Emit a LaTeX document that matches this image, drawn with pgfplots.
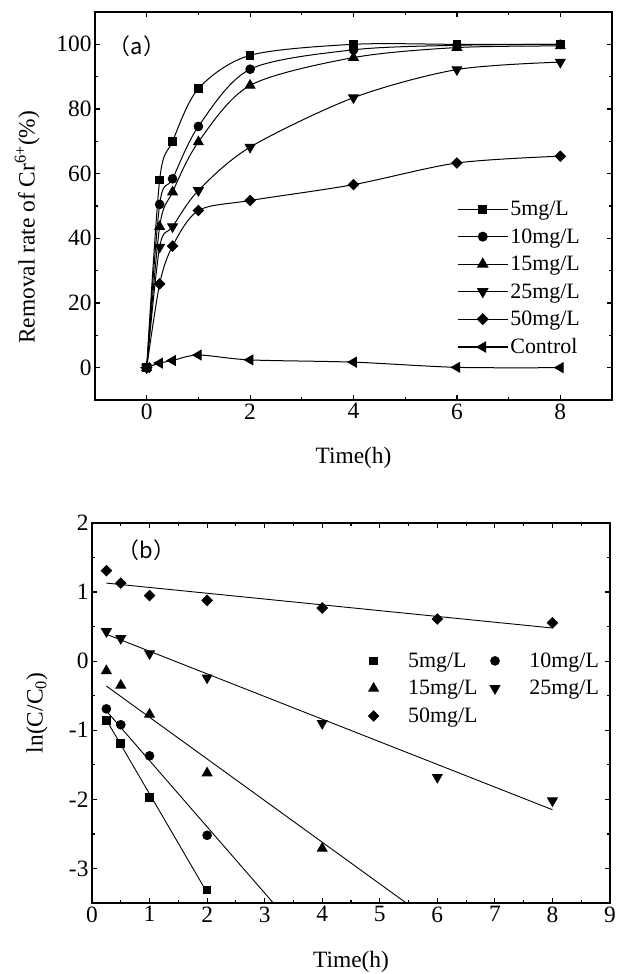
\documentclass[border=0pt]{standalone}
\usepackage{fontspec}
\setmainfont{Liberation Serif}
\newfontfamily\cjk{Noto Sans CJK SC}
\usepackage{pgfplots}
\pgfplotsset{compat=1.18}

\begin{document}
\begin{tikzpicture}[font=\fontsize{22}{26}\selectfont]
\path[use as bounding box] (0,0) rectangle (625bp,974bp);
\pgfplotsset{
  every axis/.append style={
    scale only axis,
    tick align=inside,
    axis line style={line width=1.5bp},
    major tick length=5bp, minor tick length=3bp,
    every tick/.append style={black, line width=1.2bp},
    /pgf/number format/assume math mode=true,
    tick label style={font=\fontsize{23.5}{28}\selectfont},
    label style={font=\fontsize{23.5}{28}\selectfont},
  },
  sq/.style={black, line width=1bp, mark=square*, mark size=3.8bp},
  ci/.style={black, line width=1bp, mark=*, mark size=4.3bp},
  tu/.style={black, line width=1bp, mark=triangle*, mark size=5.5bp},
  td/.style={black, line width=1bp, mark=triangle*, mark size=5.5bp, mark options={rotate=180}},
  di/.style={black, line width=1bp, mark=square*, mark size=3.6bp, mark options={rotate=45}},
  tl/.style={black, line width=1bp, mark=triangle*, mark size=5.5bp, mark options={rotate=90}},
  mlg/.style={legend image code/.code={\path (0bp,0bp) (42bp,0bp); \draw[mark repeat=2,mark phase=2,##1] plot coordinates {(0bp,0bp)(10bp,0bp)(20bp,0bp)};}},
}

% ---------------- (a) ----------------
\begin{axis}[
  at={(95bp,574bp)}, anchor=south west,
  width=517bp, height=388bp,
  xmin=-1, xmax=9, ymin=-10, ymax=110,
  xtick={0,2,4,6,8}, minor xtick={1,3,5,7},
  ytick={0,20,40,60,80,100}, minor ytick={10,30,50,70,90},
  xlabel={Time(h)},
  ylabel={Removal rate of Cr\textsuperscript{6+}(\%)},
  xlabel style={at={(axis description cs:0.5,-0.149)}, anchor=center},
  ylabel style={at={(axis description cs:-0.131,0.445)}, anchor=center},
  legend cell align=left,
  legend style={draw=none, fill=none, at={(rel axis cs:0.70,0.518)}, anchor=north west,
    font=\fontsize{22}{26}\selectfont, row sep=7.5bp, inner sep=0bp},
  legend image code/.code={\draw[mark repeat=2,mark phase=2,#1,line width=1.3bp] plot coordinates {(0bp,0bp)(25bp,0bp)(50bp,0bp)};},
]
\addplot[sq, smooth] coordinates {(0,0)(0.25,58)(0.5,70)(1,86.3)(2,96.6)(4,100)(6,100)(8,100)};
\addlegendentry{5mg/L}
\addplot[ci, smooth] coordinates {(0,0)(0.25,50.5)(0.5,58.4)(1,74.6)(2,92.3)(4,98.3)(6,99.7)(8,100)};
\addlegendentry{10mg/L}
\addplot[tu, smooth] coordinates {(0,0)(0.25,43.6)(0.5,54.3)(1,69.8)(2,87.3)(4,95.9)(6,99)(8,99.5)};
\addlegendentry{15mg/L}
\addplot[td, smooth] coordinates {(0,0)(0.25,37.3)(0.5,43.6)(1,54.8)(2,68.2)(4,83.5)(6,92.2)(8,94.5)};
\addlegendentry{25mg/L}
\addplot[di, smooth] coordinates {(0,0)(0.25,25.9)(0.5,37.6)(1,48.6)(2,51.7)(4,56.6)(6,63.3)(8,65.4)};
\addlegendentry{50mg/L}
\addplot[tl, smooth] coordinates {(0,0)(0.25,1.4)(0.5,2.2)(1,3.9)(2,2.4)(4,1.7)(6,0.1)(8,0)};
\addlegendentry{Control}
\node[font={\cjk\fontsize{22}{26}\selectfont}] at (axis cs:-0.19,99.4) {（a）};
\end{axis}

% ---------------- (b) ----------------
\begin{axis}[
  at={(92bp,71bp)}, anchor=south west,
  width=518bp, height=380bp,
  xmin=0, xmax=9, ymin=-3.5, ymax=2,
  xtick={0,1,...,9}, minor xtick={0.5,1.5,...,8.5},
  ytick={-3,-2,-1,0,1,2}, minor ytick={-2.5,-1.5,-0.5,0.5,1.5},
  xlabel={Time(h)},
  ylabel={ln(C/C\textsubscript{0})},
  xlabel style={at={(axis description cs:0.5,-0.155)}, anchor=center},
  ylabel style={at={(axis description cs:-0.106,0.5)}, anchor=center},
  legend columns=2,
  legend cell align=left,
  legend style={draw=none, fill=none, at={(rel axis cs:0.523,0.664)}, anchor=north west,
    font=\fontsize{22}{26}\selectfont, row sep=7.5bp, inner sep=0bp,
    /tikz/every even column/.append style={column sep=5bp}},
]
\addplot[sq, only marks, mlg] coordinates {(0.25,-0.86)(0.5,-1.19)(1,-1.97)(2,-3.31)};
\addlegendentry{5mg/L}
\addplot[ci, only marks, mlg] coordinates {(0.25,-0.69)(0.5,-0.92)(1,-1.37)(2,-2.52)};
\addlegendentry{10mg/L}
\addplot[tu, only marks, mlg] coordinates {(0.25,-0.14)(0.5,-0.35)(1,-0.77)(2,-1.62)(4,-2.71)};
\addlegendentry{15mg/L}
\addplot[td, only marks, mlg] coordinates {(0.25,0.43)(0.5,0.33)(1,0.11)(2,-0.24)(4,-0.90)(6,-1.68)(8,-2.02)};
\addlegendentry{25mg/L}
\addplot[di, only marks, mlg] coordinates {(0.25,1.31)(0.5,1.13)(1,0.95)(2,0.88)(4,0.77)(6,0.61)(8,0.555)};
\addlegendentry{50mg/L}
% fitted lines
\addplot[black, line width=0.9bp, no marks, forget plot] coordinates {(0.25,-0.85)(2,-3.35)};
\addplot[black, line width=0.9bp, no marks, forget plot] coordinates {(0.25,-0.72)(3.15,-3.5)};
\addplot[black, line width=0.9bp, no marks, forget plot] coordinates {(0.25,-0.36)(5.46,-3.5)};
\addplot[black, line width=0.9bp, no marks, forget plot] coordinates {(0.25,0.39)(8,-2.15)};
\addplot[black, line width=0.9bp, no marks, forget plot] coordinates {(0.25,1.13)(8,0.48)};
\node[font={\cjk\fontsize{22}{26}\selectfont}] at (axis cs:0.95,1.61) {（b）};
\end{axis}
\end{tikzpicture}
\end{document}
